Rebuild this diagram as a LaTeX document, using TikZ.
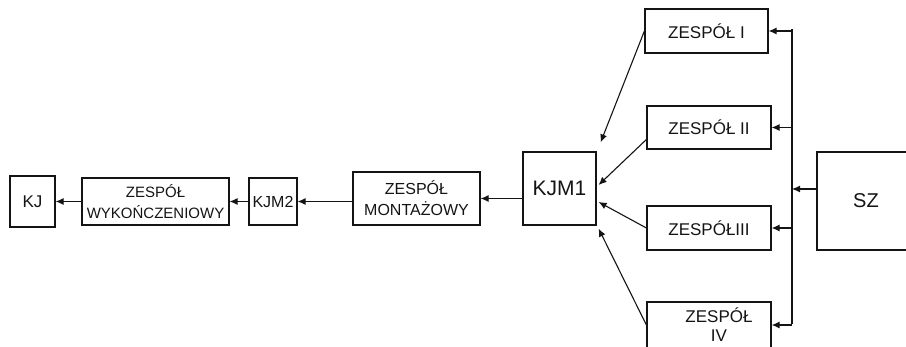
\documentclass[tikz,border=0pt]{standalone}
\usepackage{fontspec}
\setmainfont{Liberation Sans}
\usetikzlibrary{arrows.meta}
\definecolor{ink}{RGB}{20,20,20}
\tikzset{
    line cap=round,
    line join=round,
    box/.style={
        rectangle,
        draw=ink,
        line width=1.2pt,
        inner sep=0pt,
        align=center,
        text=ink,
        font=\fontsize{17}{19}\selectfont
    },
    flow/.style={
        -{Latex[length=8pt,width=7pt]},
        draw=ink,
        line width=1.1pt
    },
    bus/.style={
        -,
        draw=ink,
        line width=1.1pt
    }
}
\begin{document}
\begin{tikzpicture}[x=1pt, y=-1pt]
\useasboundingbox (0,0) rectangle (906,347);

% main line
\node[box, minimum width=45pt, minimum height=51pt] (kj) at (32.5,201.5) {KJ};
\node[box, minimum width=147pt, minimum height=47pt, font=\fontsize{15}{21}\selectfont] (wyk) at (155.5,201.5) {ZESPÓŁ\\WYKOŃCZENIOWY};
\node[box, minimum width=48pt, minimum height=47pt, font=\fontsize{16}{19}\selectfont] (kjm2) at (273,201.5) {KJM2};
\node[box, minimum width=127pt, minimum height=53pt, font=\fontsize{16}{21}\selectfont] (mont) at (416.5,198.5) {ZESPÓŁ\\MONTAŻOWY};
\node[box, minimum width=73pt, minimum height=73pt, font=\fontsize{21}{24}\selectfont] (kjm1) at (559.5,188.5) {KJM1};

% teams
\node[box, minimum width=123pt, minimum height=44pt] (zes1) at (706.5,31) {ZESPÓŁ I};
\node[box, minimum width=124pt, minimum height=43pt] (zes2) at (709,127.5) {ZESPÓŁ II};
\node[box, minimum width=124pt, minimum height=44pt] (zes3) at (709,228) {ZESPÓŁIII};
\node[box, minimum width=124pt, minimum height=46pt, font=\fontsize{17}{19}\selectfont] (zes4) at (709,325) {\hspace*{20pt}ZESPÓŁ\\\hspace*{20pt}IV};

% supply
\node[box, minimum width=98pt, minimum height=98pt, font=\fontsize{20}{22}\selectfont] (sz) at (866,201) {SZ};

% flow to the left
\draw[flow] (kjm1.west |- mont.east) -- (mont.east);
\draw[flow] (mont.west |- kjm2.east) -- (kjm2.east);
\draw[flow] (kjm2.west) -- (wyk.east);
\draw[flow] (wyk.west) -- (kj.east);

% teams into KJM1
\draw[flow] (zes1.west) -- ([xshift=4pt, yshift=9pt]kjm1.north east);
\draw[flow] ([yshift=-12pt]zes2.west) -- ([xshift=2pt, yshift=3.5pt]kjm1.east);
\draw[flow] (zes3.west) -- ([xshift=2pt, yshift=-13.5pt]kjm1.east);
\draw[flow] (zes4.west) -- ([xshift=2pt, yshift=-3pt]kjm1.south east);

% supply bus
\coordinate (bustop) at (792,29);
\coordinate (busbot) at (792,324);
\coordinate (szout) at ([yshift=12pt]sz.west);
\draw[bus] (bustop) -- (busbot);
\draw[flow] (szout) -- (bustop |- szout);
\foreach \z in {zes1,zes2,zes3,zes4}
    \draw[flow] (bustop |- \z.east) -- (\z.east);

\end{tikzpicture}
\end{document}
